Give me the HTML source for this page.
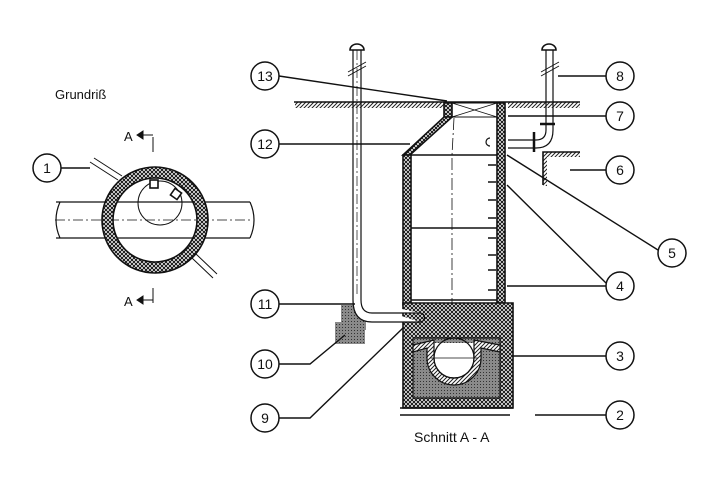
<!DOCTYPE html>
<html><head><meta charset="utf-8"><style>
html,body{margin:0;padding:0;background:#fff}
svg{display:block}
text{font-family:"Liberation Sans",sans-serif;fill:#111}
</style></head><body>
<svg width="720" height="480" viewBox="0 0 720 480" xmlns="http://www.w3.org/2000/svg">
<defs>
<pattern id="x" width="4" height="4" patternUnits="userSpaceOnUse">
<rect width="4" height="4" fill="#fff"/><path d="M0 0L4 4M4 0L0 4" stroke="#111" stroke-width="1"/>
</pattern>
<pattern id="h" width="4" height="4" patternUnits="userSpaceOnUse">
<rect width="4" height="4" fill="#fff"/><path d="M0 4L4 0M-1 1L1 -1M3 5L5 3" stroke="#222" stroke-width="1"/>
</pattern>
<pattern id="g" width="3" height="3" patternUnits="userSpaceOnUse">
<rect width="3" height="3" fill="#8a8a8a"/><rect width="1" height="1" fill="#333"/>
</pattern>
</defs>
<g stroke="#111" fill="none" stroke-width="1.6">
<!-- plan view -->
<text x="55" y="99" font-size="13" stroke="none">Grundriß</text>
<path d="M56 202H250M56 238H250M60 202Q52 220 60 238M250 202Q258 220 250 238" stroke-width="1.2"/>
<path d="M55 220H250" stroke-width="0.8" stroke-dasharray="10 3 2 3"/>
<circle cx="155" cy="220" r="47.5" stroke="url(#x)" stroke-width="11"/>
<circle cx="155" cy="220" r="53"/><circle cx="155" cy="220" r="42"/>
<circle cx="160" cy="203" r="22" stroke-width="1"/>
<rect x="150" y="180" width="8" height="8" fill="#fff"/>
<rect x="172" y="190" width="8" height="8" fill="#fff" transform="rotate(35 176 194)"/>
<path d="M90 162L118 180M94 158L122 176M192 258L213 278M196 254L217 274" stroke-width="1"/>
<path d="M153 137V152M153 288V303" stroke-width="1"/>
<text x="124" y="141" font-size="13" stroke="none">A</text><path d="M137 135l6-4v8z M143 135h10" fill="#111" stroke-width="1"/>
<text x="124" y="306" font-size="13" stroke="none">A</text><path d="M137 300l6-4v8z M143 300h10" fill="#111" stroke-width="1"/>
<!-- ground -->
<rect x="295" y="102" width="150" height="6" fill="url(#h)" stroke="none"/>
<rect x="508" y="102" width="72" height="6" fill="url(#h)" stroke="none"/>
<path d="M294 102H580"/>
<rect x="543" y="152" width="37" height="5" fill="url(#h)" stroke="none"/>
<rect x="543" y="152" width="4" height="34" fill="url(#h)" stroke="none"/>
<path d="M580 152H543V185"/>
<!-- shaft -->
<rect x="444" y="103" width="8" height="14" fill="url(#x)"/>
<path d="M452 103H497M452 117H497M452 103L497 117M452 117L497 103" stroke-width="0.9"/>
<polygon points="444,117 452,117 410,155 403,155" fill="url(#x)"/>
<rect x="497" y="103" width="8" height="200" fill="url(#x)"/>
<rect x="403" y="155" width="8" height="150" fill="url(#x)"/>
<path d="M411 155H497M411 228H497M411 300H497"/>
<path d="M454 118L452 155V380" stroke-width="0.8" stroke-dasharray="12 3 2 3"/>
<path d="M488 165h8M488 182h8M488 200h8M488 218h8M488 238h8M488 255h8M488 270h8M488 290h8" stroke-width="1.6"/>
<!-- base -->
<path d="M403 303H513V408H403Z" fill="url(#x)"/>
<rect x="413" y="338" width="87" height="60" fill="url(#g)" stroke-width="1.2"/>
<path d="M434 343V358A20 20 0 0 0 474 358V343Z" fill="#fff" stroke="none"/>
<path d="M413 345L434 340V358A20 20 0 0 0 474 358V340L500 345V352L481 348V358A27 27 0 0 1 427 358V348L413 352Z" fill="url(#h)" stroke-width="1.2"/>
<circle cx="454" cy="358" r="20" fill="none" stroke-width="1.2"/>
<path d="M430 358H478" stroke-width="0.8"/>
<path d="M400 408H513" />
<path d="M400 415H510M535 415H606"/>
<text x="414" y="442" font-size="14" stroke="none">Schnitt A - A</text>
<!-- pipes -->
<rect x="341" y="305" width="25" height="25" fill="url(#g)" stroke="none"/>
<rect x="335" y="322" width="30" height="22" fill="url(#g)" stroke="none"/>
<path d="M353 50V300M361 50V300" stroke-width="1.2"/>
<path d="M357 50V295" stroke-width="0.7" stroke-dasharray="10 3 2 3"/>
<path d="M350 50A7 6 0 0 1 364 50Z" fill="#fff"/>
<path d="M348 72L366 62M348 76L366 66" stroke-width="0.9"/>
<path d="M353 300Q353 322 372 322H420M361 300Q361 313 372 313H420" stroke-width="1.2" fill="#fff"/>
<path d="M420 313A4.5 4.5 0 0 1 420 322" stroke-width="1.2"/>
<path d="M546 50V130M553 50V130" stroke-width="1.2"/>
<path d="M542 50A7 6 0 0 1 556 50Z" fill="#fff"/>
<path d="M541 72L559 62M541 76L559 66" stroke-width="0.9"/>
<path d="M546 130Q546 140 536 140H508M553 130Q553 148 536 148H508" stroke-width="1.2"/>
<path d="M540 124h15M534 132v20" stroke-width="2.5"/>
<path d="M490 138A4 4 0 0 0 490 146" stroke-width="1.2"/>
<!-- leaders -->
<path d="M279 76L447 101M279 144H410M279 304H355M279 364H310L345 335M279 418H310L403 328M606 76H558M606 116H508M606 170H570M658 250L507 155M606 283L507 185M606 286H507M606 356H513M61 168H90" stroke-width="1.4"/>
</g>
<g stroke="#111" stroke-width="1.5" fill="#fff">
<circle cx="47" cy="168" r="14"/><circle cx="265" cy="76" r="14"/><circle cx="265" cy="144" r="14"/>
<circle cx="265" cy="304" r="14"/><circle cx="265" cy="364" r="14"/><circle cx="265" cy="418" r="14"/>
<circle cx="620" cy="76" r="14"/><circle cx="620" cy="116" r="14"/><circle cx="620" cy="170" r="14"/>
<circle cx="672" cy="253" r="14"/><circle cx="620" cy="286" r="14"/><circle cx="620" cy="356" r="14"/><circle cx="620" cy="415" r="14"/>
</g>
<g font-size="14" text-anchor="middle">
<text x="47" y="173">1</text><text x="265" y="81">13</text><text x="265" y="149">12</text>
<text x="265" y="309">11</text><text x="265" y="369">10</text><text x="265" y="423">9</text>
<text x="620" y="81">8</text><text x="620" y="121">7</text><text x="620" y="175">6</text>
<text x="672" y="258">5</text><text x="620" y="291">4</text><text x="620" y="361">3</text><text x="620" y="420">2</text>
</g>
</svg>
</body></html>
